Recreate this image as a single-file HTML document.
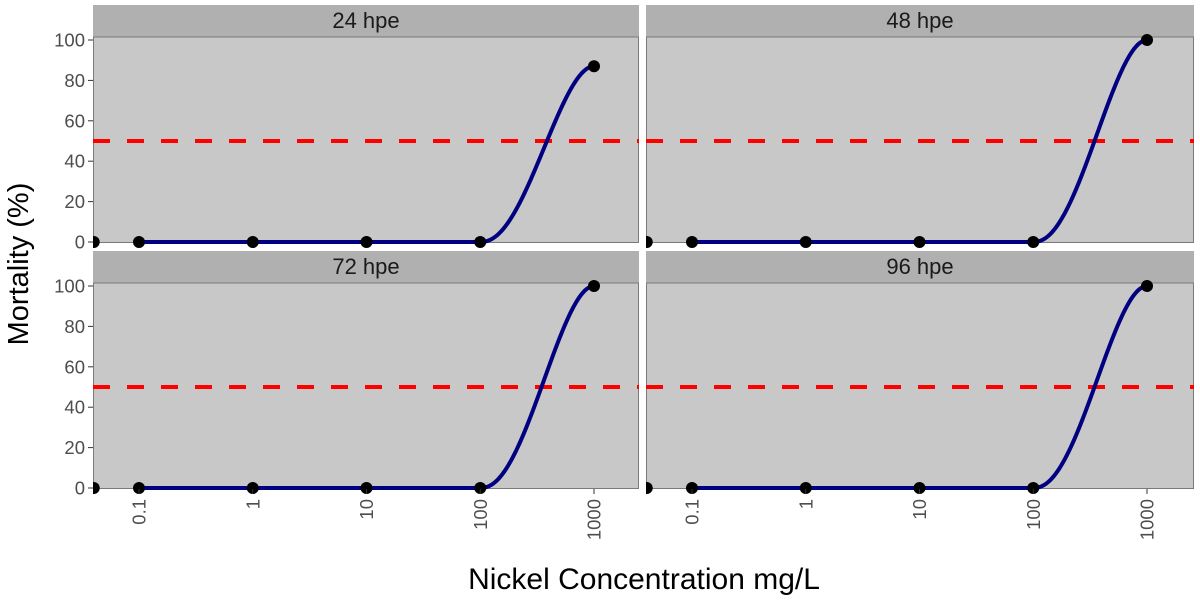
<!DOCTYPE html>
<html><head><meta charset="utf-8"><style>
body{margin:0;background:#fff;}
svg text{font-family:"Liberation Sans",sans-serif;}
</style></head><body>
<svg id="chart" width="1200" height="600" xmlns="http://www.w3.org/2000/svg"></svg>
<script>
const panelTitles = ["24 hpe","48 hpe","72 hpe","96 hpe"];
const concentrations = [0.04, 0.1, 1, 10, 100, 1000];
const mortality24 = [0, 0, 0, 0, 0, 87];
const mortality48 = [0, 0, 0, 0, 0, 100];
const mortality72 = [0, 0, 0, 0, 0, 100];
const mortality96 = [0, 0, 0, 0, 0, 100];
const series = [mortality24, mortality48, mortality72, mortality96];
const xTicks = [0.1, 1, 10, 100, 1000];
const xTickLabels = ["0.1","1","10","100","1000"];
const yTicks = [0, 20, 40, 60, 80, 100];
const refLine = 50;

const NS = "http://www.w3.org/2000/svg";
const svg = document.getElementById("chart");
function el(tag, attrs, parent){const e=document.createElementNS(NS,tag);for(const k in attrs)e.setAttribute(k,attrs[k]);(parent||svg).appendChild(e);return e;}

const panels = [
  {x0:93,x1:639,y0:37,y1:243},
  {x0:646,x1:1194,y0:37,y1:243},
  {x0:93,x1:639,y0:283,y1:489},
  {x0:646,x1:1194,y0:283,y1:489}
];
const dec = 113.75;

panels.forEach((p,i)=>{
  const xS = v => p.x0 + 46 + (Math.log10(v)+1)*dec;
  const yS = v => p.y1 - 1 - v*(p.y1-p.y0-4)/100;
  const g = el("g",{});
  
  
  const clipId="clip"+i;
  const cp=el("clipPath",{id:clipId},g);
  el("rect",{x:p.x0,y:p.y0-10,width:p.x1-p.x0,height:p.y1-p.y0+20},cp);
  const bg=el("rect",{x:p.x0,y:p.y0,width:p.x1-p.x0,height:p.y1-p.y0,fill:"#c8c8c8"},g);
  
  
  const strip=el("rect",{x:p.x0,y:p.y0-32,width:p.x1-p.x0,height:32,fill:"#b0b0b0"},g);
  
  
  const st=el("text",{x:(p.x0+p.x1)/2,y:p.y0-9,"text-anchor":"middle","font-size":"22",fill:"#1a1a1a"},g);
  st.textContent=panelTitles[i];
  
  
  el("rect",{x:p.x0+0.5,y:p.y0,width:p.x1-p.x0-1,height:p.y1-p.y0-0.5,fill:"none",stroke:"#7a7a7a","stroke-width":1},g);
  const inner=el("g",{"clip-path":"url(#"+clipId+")"},g);
  const rl=el("line",{x1:p.x0,y1:yS(refLine),x2:p.x1,y2:yS(refLine),stroke:"#ff0000","stroke-width":4,"stroke-dasharray":"17 17"},inner);
  
  
  const data=series[i];
  const n=data.length;
  const pts=[];
  for(let k=1;k<n-1;k++) pts.push([xS(concentrations[k]),yS(data[k])]);
  const a=Math.log10(concentrations[n-2]), b=Math.log10(concentrations[n-1]);
  const ya=data[n-2], yb=data[n-1];
  for(let s=1;s<=60;s++){const t=s/60*0.985;const u=Math.pow(t,1.12);const h=3*u*u-2*u*u*u;pts.push([xS(Math.pow(10,a+(b-a)*t)),yS(ya+(yb-ya)*h)]);}
  const d="M"+pts.map(q=>q[0].toFixed(2)+","+q[1].toFixed(2)).join("L");
  const c=el("path",{d:d,fill:"none",stroke:"#000080","stroke-width":4},inner);
  
  
  data.forEach((v,k)=>{
    const pt=el("circle",{cx:xS(concentrations[k]),cy:yS(v),r:6,fill:"#000"},inner);
    
    
  });
  if(i%2==0){
    yTicks.forEach(v=>{
      el("line",{x1:p.x0-5,x2:p.x0,y1:yS(v),y2:yS(v),stroke:"#333","stroke-width":1},g);
      const t=el("text",{x:p.x0-8,y:yS(v)+6.5,"text-anchor":"end","font-size":"18.5",fill:"#4d4d4d"},g);
      t.textContent=v;
      
      
    });
  }
  if(i>=2){
    xTicks.forEach((v,k)=>{
      el("line",{x1:xS(v),x2:xS(v),y1:p.y1,y2:p.y1+5,stroke:"#333","stroke-width":1},g);
      const t=el("text",{x:0,y:0,"text-anchor":"end","font-size":"18.5",fill:"#4d4d4d",transform:"translate("+(xS(v)+6.5)+","+(p.y1+10)+") rotate(-90)"},g);
      t.textContent=xTickLabels[k];
      
      
    });
  }
});
const yt=el("text",{x:0,y:0,"text-anchor":"middle","font-size":"29",fill:"#000",transform:"translate(28,264) rotate(-90)"});
yt.textContent="Mortality (%)";


const xt=el("text",{x:644,y:589,"text-anchor":"middle","font-size":"30",fill:"#000"});
xt.textContent="Nickel Concentration mg/L";


</script>
</body></html>
